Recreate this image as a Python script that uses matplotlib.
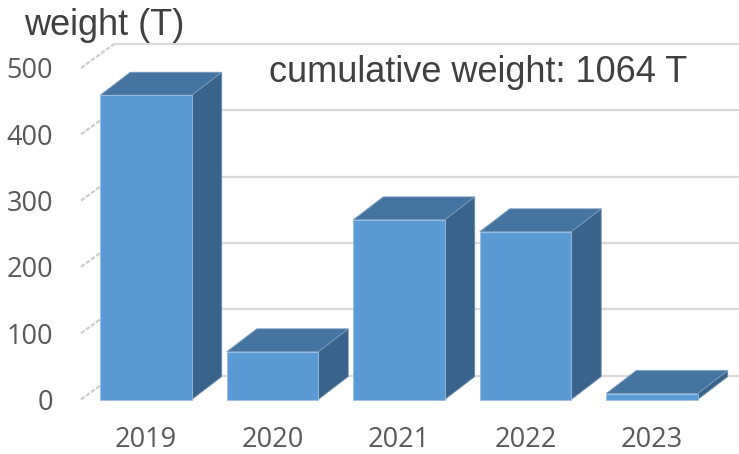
import matplotlib.pyplot as plt
from matplotlib.patches import Polygon

years = ['2019', '2020', '2021', '2022', '2023']
weights = [459, 72, 271, 253, 9]
total_weight = 1064
y_ticks = [0, 100, 200, 300, 400, 500]

front_color = '#5b9bd5'
top_color = '#4574a1'
side_color = '#39638a'
grid_color = '#d9d9d9'
text_color = '#404040'
tick_color = '#595959'

W, H = 739, 454
fig = plt.figure(figsize=(W / 100, H / 100), dpi=100)
ax = fig.add_axes([81 / W, 54.5 / H, 658 / W, 331.5 / H])
ax.set_xlim(-0.514, 4.688)
ax.set_ylim(0, 500)

bar_w = 0.723
# depth offsets for the bars and the walls (x in categories, y in tonnes)
bdx, bdy = 0.237, 34.6
wdx, wdy = 0.261, 36.0

x0, x1 = ax.get_xlim()
for v in y_ticks:
    # back wall gridline
    ax.plot([x0 + wdx, x1 + 1], [v + wdy, v + wdy], color=grid_color, lw=1.6,
            zorder=1, clip_on=False, solid_capstyle='butt')
    # side wall edge
    ax.plot([x0, x0 + wdx], [v, v + wdy], color='#cdcdcd', lw=1.6,
            zorder=1, clip_on=False, ls=(0, (2, 0.8)))

for i, v in enumerate(weights):
    l, r = i - bar_w / 2, i + bar_w / 2
    side = Polygon([(r, 0), (r + bdx, bdy), (r + bdx, v + bdy), (r, v)],
                   closed=True, facecolor=side_color, edgecolor='#6a8db0',
                   lw=0.6, zorder=3, clip_on=False)
    top = Polygon([(l, v), (r, v), (r + bdx, v + bdy), (l + bdx, v + bdy)],
                  closed=True, facecolor=top_color, edgecolor='#7a9cc0',
                  lw=0.6, zorder=3, clip_on=False)
    front = Polygon([(l, 0), (r, 0), (r, v), (l, v)], closed=True,
                    facecolor=front_color, edgecolor='#9dbde0', lw=0.6,
                    zorder=4, clip_on=False)
    ax.add_patch(side)
    ax.add_patch(top)
    ax.add_patch(front)

for s in ax.spines.values():
    s.set_visible(False)

ax.set_xticks(range(len(years)))
ax.set_xticklabels(years, fontfamily='Open Sans', fontsize=19.5, color=tick_color)
ax.set_yticks(y_ticks)
ax.set_yticklabels([str(t) for t in y_ticks], fontfamily='Open Sans',
                   fontsize=19.5, color=tick_color)
ax.tick_params(axis='x', length=0, pad=19)
ax.tick_params(axis='y', length=0, pad=20)

fig.text(24 / W, 1 - 35 / H, 'weight (T)', fontfamily='Liberation Sans',
         fontsize=26, color=text_color, va='baseline', ha='left')
fig.text(269 / W, 1 - 82 / H, f'cumulative weight: {total_weight} T',
         fontfamily='Liberation Sans', fontsize=26, color=text_color,
         va='baseline', ha='left')

fig.savefig('out.png', dpi=100)
